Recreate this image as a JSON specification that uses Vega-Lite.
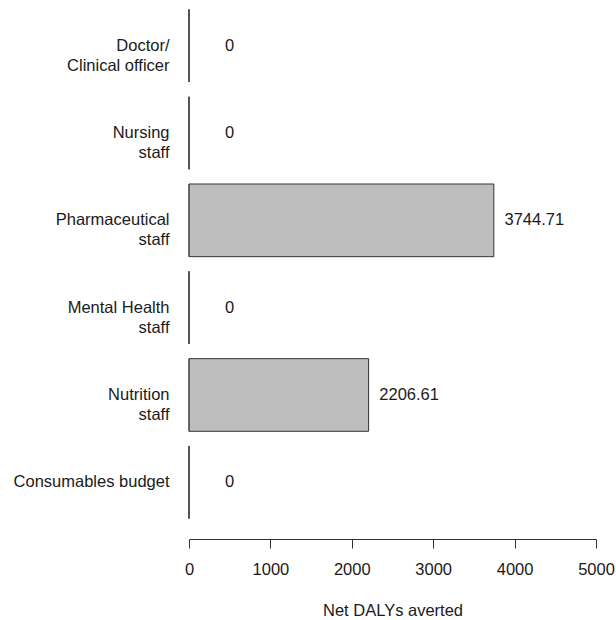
{
  "$schema": "https://vega.github.io/schema/vega-lite/v6.json",
  "autosize": {"type": "none"},
  "width": 407,
  "height": 518,
  "padding": {"top": 5, "left": 189, "right": 20, "bottom": 97},
  "background": "white",
  "config": {
    "view": {"stroke": null},
    "font": "Liberation Sans",
    "axis": {"labelFont": "Liberation Sans", "titleFont": "Liberation Sans", "labelColor": "#1a1a1a", "titleColor": "#1a1a1a", "grid": false}
  },
  "data": {
    "values": [
      {"category": "Doctor/|Clinical officer", "value": 0},
      {"category": "Nursing\u00a0|staff", "value": 0},
      {"category": "Pharmaceutical\u00a0|staff", "value": 3744.71},
      {"category": "Mental Health|staff", "value": 0},
      {"category": "Nutrition\u00a0|staff", "value": 2206.61},
      {"category": "Consumables budget", "value": 0}
    ]
  },
  "encoding": {
    "y": {
      "field": "category",
      "type": "nominal",
      "sort": null,
      "scale": {"paddingInner": 0.168, "paddingOuter": 0.05},
      "axis": {
        "title": null,
        "domain": false,
        "ticks": false,
        "labelPadding": 20,
        "labelFontSize": 16.5,
        "labelLineHeight": 20,
        "labelExpr": "split(datum.label, '|')",
        "labelLimit": 300
      }
    }
  },
  "layer": [
    {
      "mark": {"type": "bar", "fill": "#bebebe", "stroke": "#333333", "strokeWidth": 1},
      "encoding": {
        "x": {
          "field": "value",
          "type": "quantitative",
          "scale": {"domain": [0, 5000], "nice": false},
          "axis": {
            "title": "Net DALYs averted",
            "values": [0, 1000, 2000, 3000, 4000, 5000],
            "format": "d",
            "offset": 16,
            "domainColor": "#333333",
            "tickColor": "#333333",
            "tickSize": 9,
            "labelFontSize": 16.5,
            "labelPadding": 13,
            "labelFlush": false,
            "labelOverlap": false,
            "titleFontSize": 16.5,
            "titleFontWeight": "normal",
            "titlePadding": 25
          }
        }
      }
    },
    {
      "mark": {"type": "tick", "color": "#444444", "thickness": 1, "size": 72.7, "opacity": 1},
      "encoding": {
        "x": {"datum": 0, "type": "quantitative"}
      }
    },
    {
      "mark": {"type": "text", "align": "center", "baseline": "middle", "dx": 40.5, "fontSize": 16.5, "color": "#1a1a1a"},
      "encoding": {
        "x": {"field": "value", "type": "quantitative"},
        "text": {"field": "value", "type": "quantitative", "format": ".2~f"}
      }
    }
  ]
}
